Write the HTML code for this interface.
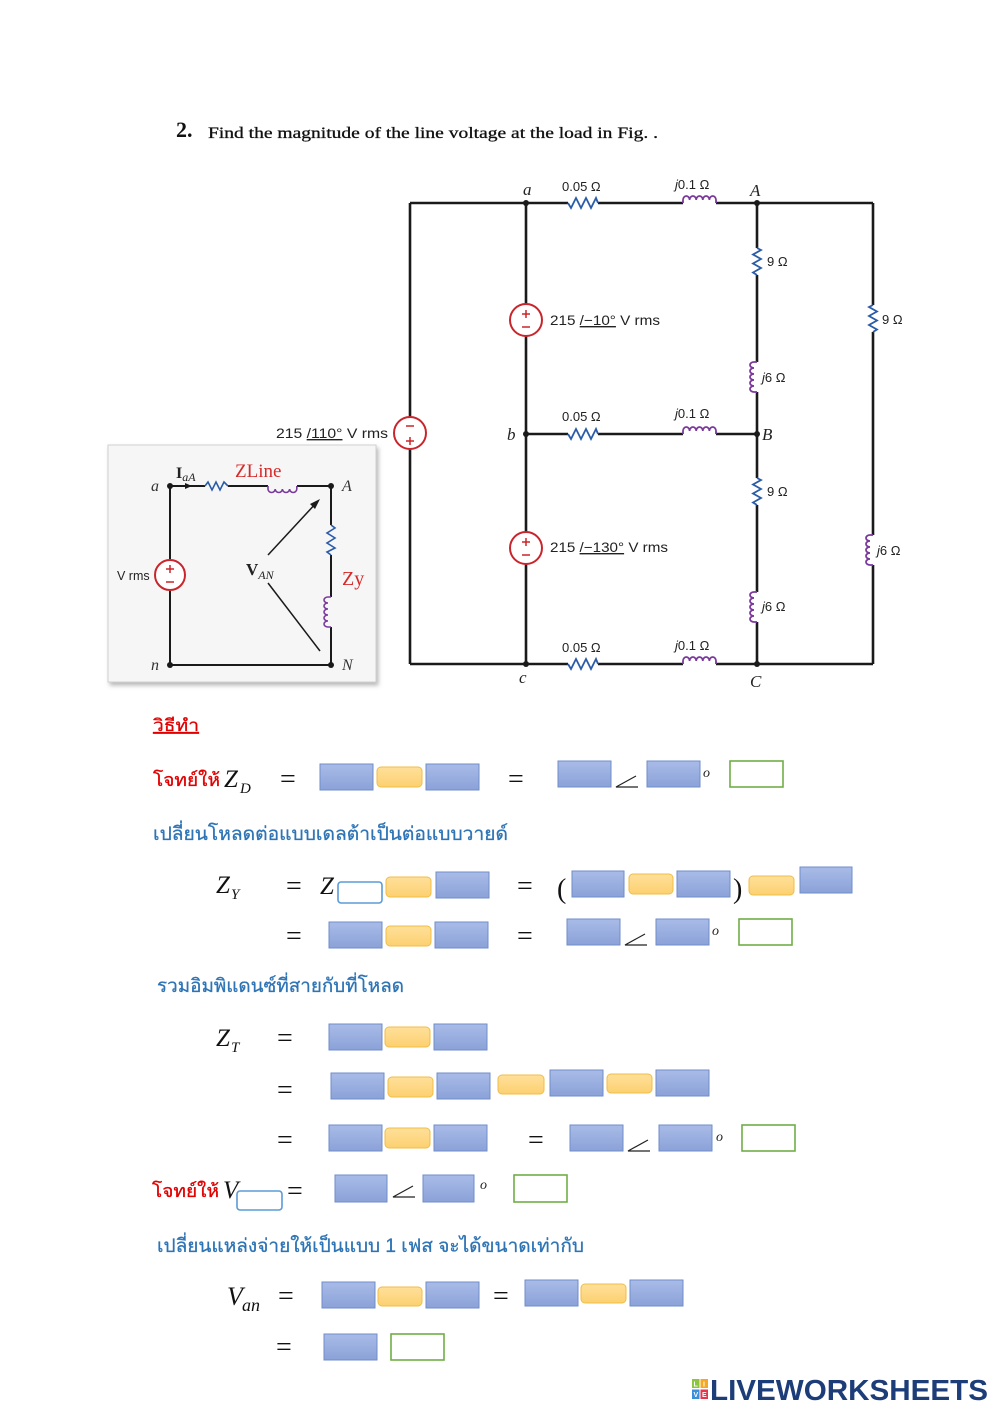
<!DOCTYPE html>
<html><head><meta charset="utf-8">
<style>
html,body{margin:0;padding:0;background:#fff;}
svg{display:block;}
.ser{font-family:"Liberation Serif","DejaVu Serif",serif;}
.sans{font-family:"Liberation Sans","DejaVu Sans",sans-serif;}
.th{font-family:"Liberation Sans","DejaVu Sans","Noto Sans CJK JP",sans-serif;}
</style></head>
<body>
<svg width="1000" height="1414" viewBox="0 0 1000 1414" xmlns="http://www.w3.org/2000/svg">
<defs>
<linearGradient id="bg" x1="0" y1="0" x2="0" y2="1">
<stop offset="0" stop-color="#a9bce8"/><stop offset="1" stop-color="#8ba2d8"/>
</linearGradient>
<linearGradient id="yg" x1="0" y1="0" x2="0" y2="1">
<stop offset="0" stop-color="#ffe09a"/><stop offset="1" stop-color="#fcd070"/>
</linearGradient>
<filter id="sh" x="-10%" y="-10%" width="130%" height="130%">
<feDropShadow dx="2" dy="3" stdDeviation="2" flood-color="#888" flood-opacity="0.6"/>
</filter>
</defs>
<rect width="1000" height="1414" fill="#fff"/>

<!-- Title -->
<text x="176" y="137" class="ser" font-size="22" font-weight="bold" fill="#111">2.</text>
<text x="208" y="138" class="ser" font-size="15.5" fill="#111" stroke="#111" stroke-width="0.3" textLength="450" lengthAdjust="spacingAndGlyphs">Find the magnitude of the line voltage at the load in Fig. .</text>

<!-- Circuit wires -->
<g stroke="#1a1a1a" stroke-width="2.6" fill="none">
<path d="M410,203 H568 M598,203 H683 M716,203 H873"/>
<path d="M526,434 H568 M598,434 H683 M716,434 H757"/>
<path d="M410,664 H568 M598,664 H683 M716,664 H873"/>
<path d="M410,203 V417 M410,449 V664"/>
<path d="M526,203 V304 M526,336 V532 M526,564 V664"/>
<path d="M757,203 V248 M757,275 V362 M757,392 V478 M757,505 V592 M757,622 V664"/>
<path d="M873,203 V305 M873,332 V535 M873,565 V664"/>
</g>

<!-- Resistors -->
<g stroke="#2a5ca8" stroke-width="1.8" fill="none">
<path d="M568,203 L571,208 L576,198 L581,208 L586,198 L591,208 L596,198 L598,203"/>
<path d="M568,434 L571,439 L576,429 L581,439 L586,429 L591,439 L596,429 L598,434"/>
<path d="M568,664 L571,669 L576,659 L581,669 L586,659 L591,669 L596,659 L598,664"/>
<path d="M757,248 L761,250 L753,254.5 L761,259 L753,263.5 L761,268 L753,272.5 L757,275"/>
<path d="M757,478 L761,480 L753,484.5 L761,489 L753,493.5 L761,498 L753,502.5 L757,505"/>
<path d="M873,305 L869,307 L877,311.5 L869,316 L877,320.5 L869,325 L877,329.5 L873,332"/>
</g>

<!-- Inductors -->
<g stroke="#7a3a9c" stroke-width="1.8" fill="none">
<path d="M683,203 V200 a3.3,4 0 0 1 6.6,0 a3.3,4 0 0 1 6.6,0 a3.3,4 0 0 1 6.6,0 a3.3,4 0 0 1 6.6,0 a3.3,4 0 0 1 6.6,0 V203"/>
<path d="M683,434 V431 a3.3,4 0 0 1 6.6,0 a3.3,4 0 0 1 6.6,0 a3.3,4 0 0 1 6.6,0 a3.3,4 0 0 1 6.6,0 a3.3,4 0 0 1 6.6,0 V434"/>
<path d="M683,664 V661 a3.3,4 0 0 1 6.6,0 a3.3,4 0 0 1 6.6,0 a3.3,4 0 0 1 6.6,0 a3.3,4 0 0 1 6.6,0 a3.3,4 0 0 1 6.6,0 V664"/>
<path d="M757,362 H754 a4,3 0 0 0 0,6 a4,3 0 0 0 0,6 a4,3 0 0 0 0,6 a4,3 0 0 0 0,6 a4,3 0 0 0 0,6 H757"/>
<path d="M757,592 H754 a4,3 0 0 0 0,6 a4,3 0 0 0 0,6 a4,3 0 0 0 0,6 a4,3 0 0 0 0,6 a4,3 0 0 0 0,6 H757"/>
<path d="M873,535 H870 a4,3 0 0 0 0,6 a4,3 0 0 0 0,6 a4,3 0 0 0 0,6 a4,3 0 0 0 0,6 a4,3 0 0 0 0,6 H873"/>
</g>

<!-- Sources -->
<g stroke="#c8262c" stroke-width="2" fill="#fff">
<circle cx="410" cy="433" r="16"/>
<circle cx="526" cy="320" r="16"/>
<circle cx="526" cy="548" r="16"/>
</g>
<g stroke="#c8262c" stroke-width="1.5" fill="none">
<path d="M406,426 H414 M406,441 H414 M410,437 V445"/>
<path d="M522,314 H530 M526,310 V318 M522,327 H530"/>
<path d="M522,542 H530 M526,538 V546 M522,555 H530"/>
</g>

<!-- Node dots -->
<g fill="#1a1a1a">
<circle cx="526" cy="203" r="3"/><circle cx="757" cy="203" r="3"/>
<circle cx="526" cy="434" r="3"/><circle cx="757" cy="434" r="3"/>
<circle cx="526" cy="664" r="3"/><circle cx="757" cy="664" r="3"/>
</g>

<!-- Node labels -->
<g class="ser" font-style="italic" font-size="17" fill="#222">
<text x="523" y="195">a</text>
<text x="750" y="196">A</text>
<text x="507" y="440">b</text>
<text x="762" y="440">B</text>
<text x="519" y="683">c</text>
<text x="750" y="687">C</text>
</g>

<!-- Component labels -->
<g class="sans" font-size="13" fill="#222">
<text x="562" y="191">0.05 Ω</text>
<text x="675" y="189"><tspan font-style="italic">j</tspan>0.1 Ω</text>
<text x="562" y="421">0.05 Ω</text>
<text x="675" y="418"><tspan font-style="italic">j</tspan>0.1 Ω</text>
<text x="562" y="652">0.05 Ω</text>
<text x="675" y="650"><tspan font-style="italic">j</tspan>0.1 Ω</text>
<text x="767" y="266">9 Ω</text>
<text x="762" y="382"><tspan font-style="italic">j</tspan>6 Ω</text>
<text x="767" y="496">9 Ω</text>
<text x="762" y="611"><tspan font-style="italic">j</tspan>6 Ω</text>
<text x="882" y="324">9 Ω</text>
<text x="877" y="555"><tspan font-style="italic">j</tspan>6 Ω</text>
</g>
<g class="sans" font-size="14" fill="#222">
<text x="550" y="325" textLength="110" lengthAdjust="spacingAndGlyphs">215 <tspan text-decoration="underline">/−10°</tspan> V rms</text>
<text x="550" y="552" textLength="118" lengthAdjust="spacingAndGlyphs">215 <tspan text-decoration="underline">/−130°</tspan> V rms</text>
<text x="276" y="438" textLength="112" lengthAdjust="spacingAndGlyphs">215 <tspan text-decoration="underline">/110°</tspan> V rms</text>
</g>

<!-- Inset -->
<rect x="108" y="445" width="268" height="237" fill="#f6f6f6" stroke="#d0d0d0" stroke-width="1" filter="url(#sh)"/>
<g stroke="#1a1a1a" stroke-width="2" fill="none">
<path d="M170,486 H205 M228,486 H268 M297,486 H331 V525 M331,555 V597 M331,627 V665 H170 V591 M170,559 V486"/>
</g>
<path d="M205,486 L208,482 L212,490 L216,482 L220,490 L224,482 L228,486" stroke="#2a5ca8" stroke-width="1.6" fill="none"/>
<path d="M331,525 L335,528 L327,533 L335,538 L327,543 L335,548 L327,552 L331,555" stroke="#2a5ca8" stroke-width="1.6" fill="none"/>
<path d="M268,486 V489 a3.6,3.5 0 0 0 7.2,0 a3.6,3.5 0 0 0 7.2,0 a3.6,3.5 0 0 0 7.2,0 a3.6,3.5 0 0 0 7.2,0 V486" stroke="#7a3a9c" stroke-width="1.6" fill="none"/>
<path d="M331,597 H328 a4,3 0 0 0 0,6 a4,3 0 0 0 0,6 a4,3 0 0 0 0,6 a4,3 0 0 0 0,6 a4,3 0 0 0 0,6 H331" stroke="#7a3a9c" stroke-width="1.6" fill="none"/>
<path d="M185,483 L192,486 L185,489 Z" fill="#1a1a1a"/>
<circle cx="170" cy="575" r="15" stroke="#c8262c" stroke-width="2" fill="#fff"/>
<path d="M166,569 H174 M170,565 V573 M166,582 H174" stroke="#c8262c" stroke-width="1.5" fill="none"/>
<g fill="#1a1a1a">
<circle cx="170" cy="486" r="3"/><circle cx="331" cy="486" r="3"/>
<circle cx="170" cy="665" r="3"/><circle cx="331" cy="665" r="3"/>
</g>
<path d="M268,555 L318,501" stroke="#1a1a1a" stroke-width="1.5"/>
<path d="M320,499 L310,504 L315,509 Z" fill="#1a1a1a"/>
<path d="M268,583 L320,651" stroke="#1a1a1a" stroke-width="1.5"/>
<g class="ser" font-style="italic" font-size="16" fill="#333">
<text x="151" y="491">a</text>
<text x="342" y="491">A</text>
<text x="151" y="670">n</text>
<text x="342" y="670">N</text>
</g>
<text x="176" y="478" class="ser" font-size="16" font-weight="bold" fill="#222">I<tspan font-size="12" font-style="italic" font-weight="normal" dy="3">aA</tspan></text>
<text x="235" y="477" class="ser" font-size="19" fill="#d42a2a">ZLine</text>
<text x="246" y="575" class="ser" font-size="17" font-weight="bold" fill="#222">V<tspan font-size="12" font-style="italic" font-weight="normal" dy="4">AN</tspan></text>
<text x="342" y="585" class="ser" font-size="20" fill="#d42a2a">Zy</text>
<text x="117" y="580" class="sans" font-size="12.5" fill="#222">V rms</text>

<!-- ===== Worksheet section ===== -->
<text x="153" y="731" class="th" font-size="17" fill="#e00000" stroke="#e00000" stroke-width="0.3" text-decoration="underline" textLength="46" lengthAdjust="spacingAndGlyphs">วิธีทำ</text>

<!-- Z_D row -->
<text x="153" y="786" class="th" font-size="18" fill="#e00000" stroke="#e00000" stroke-width="0.3" textLength="67" lengthAdjust="spacingAndGlyphs">โจทย์ให้</text>
<text x="224" y="787" class="ser" font-style="italic" font-size="25" fill="#111">Z</text>
<text x="240" y="793" class="ser" font-style="italic" font-size="15" fill="#111">D</text>
<g class="ser" font-size="28" fill="#111">
<text x="280" y="788">=</text>
<text x="508" y="788">=</text>
</g>
<rect x="320" y="764" width="53" height="26" fill="url(#bg)" stroke="#6f8dc8"/>
<rect x="377" y="767" width="45" height="20" rx="4" fill="url(#yg)" stroke="#f0bd45"/>
<rect x="426" y="764" width="53" height="26" fill="url(#bg)" stroke="#6f8dc8"/>
<rect x="558" y="761" width="53" height="26" fill="url(#bg)" stroke="#6f8dc8"/>
<path d="M636,776 L616,787 L638,787" stroke="#222" stroke-width="1.2" fill="none"/>
<rect x="647" y="761" width="53" height="26" fill="url(#bg)" stroke="#6f8dc8"/>
<text x="703" y="777" class="ser" font-style="italic" font-size="14" fill="#222">o</text>
<rect x="730" y="761" width="53" height="26" fill="#fff" stroke="#70ad47" stroke-width="1.6"/>

<text x="153" y="840" class="th" font-size="19" fill="#2e74b5" stroke="#2e74b5" stroke-width="0.3" textLength="355" lengthAdjust="spacingAndGlyphs">เปลี่ยนโหลดต่อแบบเดลต้าเป็นต่อแบบวายด์</text>

<!-- Z_Y row 1 -->
<text x="216" y="893" class="ser" font-style="italic" font-size="25" fill="#111">Z</text>
<text x="231" y="899" class="ser" font-style="italic" font-size="15" fill="#111">Y</text>
<g class="ser" font-size="28" fill="#111">
<text x="286" y="895">=</text>
<text x="517" y="895">=</text>
<text x="286" y="945">=</text>
<text x="517" y="945">=</text>
</g>
<text x="320" y="894" class="ser" font-style="italic" font-size="25" fill="#111">Z</text>
<rect x="338" y="882" width="44" height="21" rx="3" fill="#fff" stroke="#5b9bd5" stroke-width="1.6"/>
<rect x="386" y="877" width="45" height="20" rx="4" fill="url(#yg)" stroke="#f0bd45"/>
<rect x="436" y="872" width="53" height="26" fill="url(#bg)" stroke="#6f8dc8"/>
<text x="557" y="898" class="ser" font-size="28" fill="#111">(</text>
<rect x="572" y="871" width="52" height="26" fill="url(#bg)" stroke="#6f8dc8"/>
<rect x="629" y="874" width="44" height="20" rx="4" fill="url(#yg)" stroke="#f0bd45"/>
<rect x="677" y="871" width="53" height="26" fill="url(#bg)" stroke="#6f8dc8"/>
<text x="733" y="898" class="ser" font-size="28" fill="#111">)</text>
<rect x="749" y="876" width="45" height="19" rx="4" fill="url(#yg)" stroke="#f0bd45"/>
<rect x="800" y="867" width="52" height="26" fill="url(#bg)" stroke="#6f8dc8"/>

<!-- Z_Y row 2 -->
<rect x="329" y="922" width="53" height="26" fill="url(#bg)" stroke="#6f8dc8"/>
<rect x="386" y="926" width="45" height="20" rx="4" fill="url(#yg)" stroke="#f0bd45"/>
<rect x="435" y="922" width="53" height="26" fill="url(#bg)" stroke="#6f8dc8"/>
<rect x="567" y="919" width="53" height="26" fill="url(#bg)" stroke="#6f8dc8"/>
<path d="M645,934 L625,945 L647,945" stroke="#222" stroke-width="1.2" fill="none"/>
<rect x="656" y="919" width="53" height="26" fill="url(#bg)" stroke="#6f8dc8"/>
<text x="712" y="935" class="ser" font-style="italic" font-size="14" fill="#222">o</text>
<rect x="739" y="919" width="53" height="26" fill="#fff" stroke="#70ad47" stroke-width="1.6"/>

<text x="157" y="992" class="th" font-size="19" fill="#2e74b5" stroke="#2e74b5" stroke-width="0.3" textLength="247" lengthAdjust="spacingAndGlyphs">รวมอิมพิแดนซ์ที่สายกับที่โหลด</text>

<!-- Z_T rows -->
<text x="216" y="1046" class="ser" font-style="italic" font-size="25" fill="#111">Z</text>
<text x="231" y="1052" class="ser" font-style="italic" font-size="15" fill="#111">T</text>
<g class="ser" font-size="28" fill="#111">
<text x="277" y="1047">=</text>
<text x="277" y="1099">=</text>
<text x="277" y="1149">=</text>
<text x="528" y="1149">=</text>
</g>
<rect x="329" y="1024" width="53" height="26" fill="url(#bg)" stroke="#6f8dc8"/>
<rect x="385" y="1027" width="45" height="20" rx="4" fill="url(#yg)" stroke="#f0bd45"/>
<rect x="434" y="1024" width="53" height="26" fill="url(#bg)" stroke="#6f8dc8"/>

<rect x="331" y="1073" width="53" height="26" fill="url(#bg)" stroke="#6f8dc8"/>
<rect x="388" y="1077" width="45" height="20" rx="4" fill="url(#yg)" stroke="#f0bd45"/>
<rect x="437" y="1073" width="53" height="26" fill="url(#bg)" stroke="#6f8dc8"/>
<rect x="498" y="1075" width="46" height="19" rx="4" fill="url(#yg)" stroke="#f0bd45"/>
<rect x="550" y="1070" width="53" height="26" fill="url(#bg)" stroke="#6f8dc8"/>
<rect x="607" y="1074" width="45" height="19" rx="4" fill="url(#yg)" stroke="#f0bd45"/>
<rect x="656" y="1070" width="53" height="26" fill="url(#bg)" stroke="#6f8dc8"/>

<rect x="329" y="1125" width="53" height="26" fill="url(#bg)" stroke="#6f8dc8"/>
<rect x="385" y="1128" width="45" height="20" rx="4" fill="url(#yg)" stroke="#f0bd45"/>
<rect x="434" y="1125" width="53" height="26" fill="url(#bg)" stroke="#6f8dc8"/>
<rect x="570" y="1125" width="53" height="26" fill="url(#bg)" stroke="#6f8dc8"/>
<path d="M648,1140 L628,1151 L650,1151" stroke="#222" stroke-width="1.2" fill="none"/>
<rect x="659" y="1125" width="53" height="26" fill="url(#bg)" stroke="#6f8dc8"/>
<text x="716" y="1141" class="ser" font-style="italic" font-size="14" fill="#222">o</text>
<rect x="742" y="1125" width="53" height="26" fill="#fff" stroke="#70ad47" stroke-width="1.6"/>

<!-- V row -->
<text x="152" y="1197" class="th" font-size="18" fill="#e00000" stroke="#e00000" stroke-width="0.3" textLength="67" lengthAdjust="spacingAndGlyphs">โจทย์ให้</text>
<text x="223" y="1198" class="ser" font-style="italic" font-size="25" fill="#111">V</text>
<rect x="237" y="1191" width="45" height="19" rx="3" fill="#fff" stroke="#5b9bd5" stroke-width="1.6"/>
<text x="287" y="1200" class="ser" font-size="28" fill="#111">=</text>
<rect x="335" y="1175" width="52" height="27" fill="url(#bg)" stroke="#6f8dc8"/>
<path d="M413,1186 L393,1197 L415,1197" stroke="#222" stroke-width="1.2" fill="none"/>
<rect x="423" y="1175" width="51" height="27" fill="url(#bg)" stroke="#6f8dc8"/>
<text x="480" y="1189" class="ser" font-style="italic" font-size="14" fill="#222">o</text>
<rect x="514" y="1175" width="53" height="27" fill="#fff" stroke="#70ad47" stroke-width="1.6"/>

<text x="157" y="1252" class="th" font-size="19" fill="#2e74b5" stroke="#2e74b5" stroke-width="0.3" textLength="427" lengthAdjust="spacingAndGlyphs">เปลี่ยนแหล่งจ่ายให้เป็นแบบ 1 เฟส จะได้ขนาดเท่ากับ</text>

<!-- V_an rows -->
<text x="227" y="1305" class="ser" font-style="italic" font-size="26" fill="#111">V</text>
<text x="242" y="1311" class="ser" font-style="italic" font-size="18" fill="#111">an</text>
<g class="ser" font-size="28" fill="#111">
<text x="278" y="1305">=</text>
<text x="493" y="1305">=</text>
<text x="276" y="1356">=</text>
</g>
<rect x="322" y="1282" width="53" height="26" fill="url(#bg)" stroke="#6f8dc8"/>
<rect x="378" y="1287" width="44" height="19" rx="4" fill="url(#yg)" stroke="#f0bd45"/>
<rect x="426" y="1282" width="53" height="26" fill="url(#bg)" stroke="#6f8dc8"/>
<rect x="525" y="1280" width="53" height="26" fill="url(#bg)" stroke="#6f8dc8"/>
<rect x="581" y="1284" width="45" height="19" rx="4" fill="url(#yg)" stroke="#f0bd45"/>
<rect x="630" y="1280" width="53" height="26" fill="url(#bg)" stroke="#6f8dc8"/>

<rect x="324" y="1334" width="53" height="26" fill="url(#bg)" stroke="#6f8dc8"/>
<rect x="391" y="1334" width="53" height="26" fill="#fff" stroke="#70ad47" stroke-width="1.6"/>

<!-- Logo -->
<rect x="692" y="1379" width="7.5" height="9" fill="#8cc63f"/>
<rect x="700.5" y="1379" width="7.5" height="9" fill="#f7a823"/>
<rect x="692" y="1389.5" width="7.5" height="9.5" fill="#3b8ed8"/>
<rect x="700.5" y="1389.5" width="7.5" height="9.5" fill="#e8334a"/>
<g class="sans" font-size="7" font-weight="bold" fill="#fff">
<text x="693.5" y="1386.5">L</text><text x="703" y="1386.5">I</text>
<text x="693.5" y="1397">V</text><text x="702" y="1397">E</text>
</g>
<text x="710" y="1400" class="sans" font-size="29" font-weight="bold" fill="#1d3d78" textLength="278" lengthAdjust="spacingAndGlyphs">LIVEWORKSHEETS</text>
</svg>
</body></html>
